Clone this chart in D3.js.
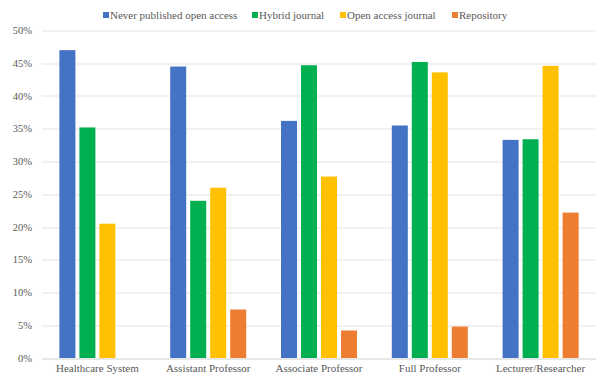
<!DOCTYPE html>
<html>
<head>
<meta charset="utf-8">
<script src="https://cdn.jsdelivr.net/npm/d3@7"></script>
<style>
  body { margin: 0; background: #fff; }
</style>
</head>
<body>
<svg id="chart" width="608" height="381"></svg>
<script>
// data
const categories = ['Healthcare System', 'Assistant Professor', 'Associate Professor', 'Full Professor', 'Lecturer/Researcher'];
const seriesNames = ['Never published open access', 'Hybrid journal', 'Open access journal', 'Repository'];
const neverOA = [47.0, 44.5, 36.2, 35.5, 33.3];
const hybrid = [35.2, 24.0, 44.7, 45.2, 33.4];
const oaJournal = [20.5, 26.0, 27.7, 43.6, 44.6];
const repository = [0, 7.4, 4.2, 4.8, 22.2];
const yTicks = [0, 5, 10, 15, 20, 25, 30, 35, 40, 45, 50];
const colors = ['#4472C4', '#00B050', '#FFC000', '#ED7D31'];

const seriesValues = [neverOA, hybrid, oaJournal, repository];
const data = categories.map((c, i) => ({
    cat: c,
    vals: seriesNames.map((s, j) => ({ key: s, value: seriesValues[j][i] }))
}));

const font = "'Liberation Serif', 'Times New Roman', serif";
const svg = d3.select('#chart');
const margin = { top: 30.5, right: 12, bottom: 23, left: 42 };
const width = 608 - margin.left - margin.right;
const height = 381 - margin.top - margin.bottom;

const g = svg.append('g').attr('transform', `translate(${margin.left},${margin.top})`);

const x0 = d3.scaleBand().domain(categories).range([0, width]).padding(0);
const x1 = d3.scaleBand().domain(seriesNames).range([0, x0.bandwidth()])
    .paddingInner(0.2).paddingOuter(0.87);
const y = d3.scaleLinear().domain([0, 50]).range([height, 0]);
const color = d3.scaleOrdinal().domain(seriesNames).range(colors);

// gridlines
g.append('g').selectAll('line').data(yTicks).join('line')
    .attr('x1', 0).attr('x2', width)
    .attr('y1', d => Math.round(y(d)) + 0.5).attr('y2', d => Math.round(y(d)) + 0.5)
    .attr('stroke', d => d === 0 ? '#d0d0d0' : '#e4e4e4').attr('stroke-width', 1);

// y tick labels
g.append('g').selectAll('text').data(yTicks).join('text')
    .attr('x', -10).attr('y', d => y(d))
    .attr('dy', '0.35em')
    .attr('text-anchor', 'end')
    .style('font-family', font).style('font-size', '10.5px').style('fill', '#595959')
    .text(d => d + '%');

// bars
const groups = g.append('g').selectAll('g').data(data).join('g')
    .attr('transform', d => `translate(${x0(d.cat)},0)`);
groups.selectAll('rect').data(d => d.vals.filter(v => v.value > 0)).join('rect')
    .attr('x', d => x1(d.key))
    .attr('width', x1.bandwidth())
    .attr('y', d => y(d.value))
    .attr('height', d => y(0) - y(d.value))
    .attr('fill', d => color(d.key));

// category labels
g.append('g').selectAll('text').data(categories).join('text')
    .attr('x', d => x0(d) + x0.bandwidth() / 2)
    .attr('y', height + 14)
    .attr('text-anchor', 'middle')
    .style('font-family', font).style('font-size', '11px').style('fill', '#595959')
    .text(d => d);

// legend
const legendX = [103, 252, 340, 452];
const legend = svg.append('g').attr('transform', 'translate(0,15)');
const item = legend.selectAll('g').data(seriesNames).join('g')
    .attr('transform', (d, i) => `translate(${legendX[i]},0)`);
item.append('rect').attr('x', 0).attr('y', -3).attr('width', 6).attr('height', 6)
    .attr('fill', d => color(d));
item.append('text').attr('x', 7).attr('dy', '0.35em')
    .style('font-family', font).style('font-size', '11px').style('fill', '#595959')
    .text(d => d);
</script>
</body>
</html>
